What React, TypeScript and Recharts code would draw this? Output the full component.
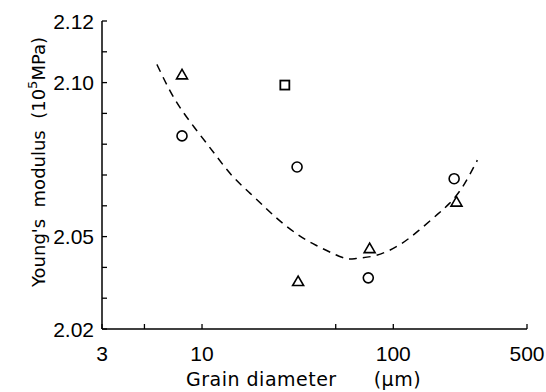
import React from "react";
import * as RC from "recharts";
import { ComposedChart, XAxis, YAxis, Scatter, Line, Label } from "recharts";

const xTicks = [3, 5, 10, 50, 100, 500];
const xTickLabels = [3, 10, 100, 500];
const yTicks = [2.02, 2.03, 2.04, 2.05, 2.06, 2.07, 2.08, 2.09, 2.1, 2.11, 2.12];
const yTickLabels = ["2.02", "2.05", "2.10", "2.12"];

const triangles = [
  { x: 7.86, y: 2.1025 },
  { x: 31.8, y: 2.0354 },
  { x: 75.2, y: 2.0461 },
  { x: 214, y: 2.0612 },
];
const circles = [
  { x: 7.86, y: 2.0827 },
  { x: 31.4, y: 2.0726 },
  { x: 74, y: 2.0366 },
  { x: 208, y: 2.0688 },
];
const squares = [{ x: 27.1, y: 2.0992 }];

const curve = [
  { x: 5.81, y: 2.1059 },
  { x: 6.69, y: 2.0982 },
  { x: 7.83, y: 2.0911 },
  { x: 9.61, y: 2.0836 },
  { x: 11.8, y: 2.0764 },
  { x: 14.3, y: 2.0699 },
  { x: 17.6, y: 2.0644 },
  { x: 21.6, y: 2.0592 },
  { x: 26.1, y: 2.0546 },
  { x: 32.1, y: 2.0504 },
  { x: 39.4, y: 2.0472 },
  { x: 53.9, y: 2.0433 },
  { x: 63.8, y: 2.0429 },
  { x: 81.2, y: 2.0439 },
  { x: 107, y: 2.0472 },
  { x: 136, y: 2.052 },
  { x: 170, y: 2.0572 },
  { x: 196, y: 2.0607 },
  { x: 230, y: 2.0661 },
  { x: 275, y: 2.0748 },
];

const TICK_FONT = "'Liberation Sans', Arial, sans-serif";
const LABEL_FONT = "'DejaVu Sans', sans-serif";
const TICK_LEN = 5;

const MARGIN = { top: 21, right: 19, bottom: 0, left: 0 };
const CHART_W = 546;
const CHART_H = 392;
const Y_AXIS_W = 102;
const X_AXIS_H = 63;

const fallbackPlot = {
  x: MARGIN.left + Y_AXIS_W,
  y: MARGIN.top,
  width: CHART_W - MARGIN.left - MARGIN.right - Y_AXIS_W,
  height: CHART_H - MARGIN.top - MARGIN.bottom - X_AXIS_H,
};

const usePlot = (): { x: number; y: number; width: number; height: number } => {
  const hook = (RC as any).usePlotArea;
  const pa = hook ? hook() : null;
  return pa && typeof pa.x === "number" ? pa : fallbackPlot;
};

const XTick = (props: any) => {
  const { payload } = props;
  const plot = usePlot();
  const x = payload.coordinate ?? props.x;
  const axisY = plot.y + plot.height;
  const labelled = xTickLabels.includes(payload.value);
  return (
    <g>
      <line x1={x} x2={x} y1={axisY} y2={axisY - TICK_LEN} stroke="#000" strokeWidth={1.3} />
      {labelled && (
        <text x={x} y={axisY + 16} dy="0.75em" textAnchor="middle" fontFamily={TICK_FONT} fontSize={21} fill="#000">
          {payload.value}
        </text>
      )}
    </g>
  );
};

const YTick = (props: any) => {
  const { payload } = props;
  const plot = usePlot();
  const y = payload.coordinate ?? props.y;
  const axisX = plot.x;
  const s = Number(payload.value).toFixed(2);
  const labelled = yTickLabels.includes(s);
  return (
    <g>
      <line x1={axisX} x2={axisX + TICK_LEN} y1={y} y2={y} stroke="#000" strokeWidth={1.3} />
      {labelled && (
        <text x={axisX - 8} y={y} dy="0.36em" textAnchor="end" fontFamily={TICK_FONT} fontSize={21} fill="#000">
          {s}
        </text>
      )}
    </g>
  );
};

const Tri = (props: any) => {
  const { cx, cy } = props;
  if (cx == null || cy == null) return null;
  return (
    <polygon
      points={`${cx},${cy - 5.5} ${cx - 5.5},${cy + 4} ${cx + 5.5},${cy + 4}`}
      fill="#fff"
      stroke="#000"
      strokeWidth={1.6}
    />
  );
};
const Circ = (props: any) => {
  const { cx, cy } = props;
  if (cx == null || cy == null) return null;
  return <circle cx={cx} cy={cy} r={5} fill="#fff" stroke="#000" strokeWidth={1.6} />;
};
const Sq = (props: any) => {
  const { cx, cy } = props;
  if (cx == null || cy == null) return null;
  return <rect x={cx - 4.5} y={cy - 4.5} width={9} height={9} fill="#fff" stroke="#000" strokeWidth={1.8} />;
};

const YLabel = (props: any) => {
  const vb = props.viewBox || {};
  const cx = 45;
  const cy = (vb.y ?? 21) + (vb.height ?? 308) / 2 - 13;
  return (
    <text
      x={cx}
      y={cy}
      transform={`rotate(-90 ${cx} ${cy})`}
      textAnchor="middle"
      fontFamily={LABEL_FONT}
      fontSize={18}
      fill="#000"
      style={{ whiteSpace: "pre" }}
    >
      <tspan>{"Young's  modulus  (10"}</tspan>
      <tspan dy={-8} fontSize={13}>5</tspan>
      <tspan dy={8}>MPa)</tspan>
    </text>
  );
};

const XLabel = (props: any) => {
  const vb = props.viewBox || {};
  const x0 = (vb.x ?? 102) + 84;
  const y0 = 386;
  return (
    <text
      x={x0}
      y={y0}
      textAnchor="start"
      fontFamily={LABEL_FONT}
      fontSize={19}
      letterSpacing={0.5}
      fill="#000"
      style={{ whiteSpace: "pre" }}
    >
      <tspan>Grain diameter</tspan>
      <tspan dx={37}>(μm)</tspan>
    </text>
  );
};

export default function App() {
  return (
    <div style={{ position: "absolute", left: 0, top: 0, width: CHART_W, height: CHART_H, background: "#fff" }}>
      <ComposedChart width={CHART_W} height={CHART_H} margin={MARGIN}>
        <XAxis
          dataKey="x"
          type="number"
          scale="log"
          domain={[3, 500]}
          ticks={xTicks}
          allowDataOverflow
          height={X_AXIS_H}
          tickLine={false}
          tick={<XTick />}
          stroke="#000"
          strokeWidth={1.5}
        >
          <Label content={<XLabel />} />
        </XAxis>
        <XAxis
          xAxisId="top"
          orientation="top"
          type="number"
          scale="log"
          domain={[3, 500]}
          allowDataOverflow
          height={0}
          tick={false}
          tickLine={false}
          stroke="#000"
          strokeWidth={1.5}
        />
        <YAxis
          dataKey="y"
          type="number"
          domain={[2.02, 2.12]}
          ticks={yTicks}
          allowDataOverflow
          width={Y_AXIS_W}
          tickLine={false}
          tick={<YTick />}
          stroke="#000"
          strokeWidth={1.5}
        >
          <Label content={<YLabel />} />
        </YAxis>
        <YAxis
          yAxisId="right"
          orientation="right"
          type="number"
          domain={[2.02, 2.12]}
          allowDataOverflow
          width={0}
          tick={false}
          tickLine={false}
          stroke="#000"
          strokeWidth={1.5}
        />
        <Line
          data={curve}
          dataKey="y"
          type="natural"
          stroke="#000"
          strokeWidth={1.5}
          strokeDasharray="8 6"
          dot={false}
          isAnimationActive={false}
        />
        <Scatter data={triangles} dataKey="y" shape={<Tri />} isAnimationActive={false} />
        <Scatter data={circles} dataKey="y" shape={<Circ />} isAnimationActive={false} />
        <Scatter data={squares} dataKey="y" shape={<Sq />} isAnimationActive={false} />
      </ComposedChart>
    </div>
  );
}
